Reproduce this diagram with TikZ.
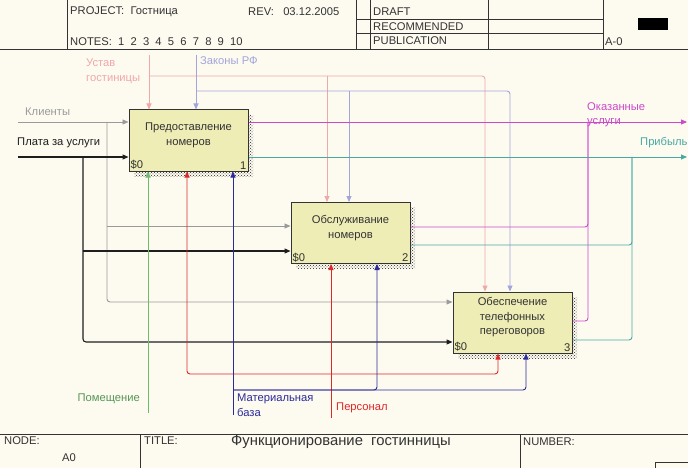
\documentclass[tikz,border=0pt]{standalone}
\usepackage{fontspec}
\setmainfont{Liberation Sans}
\usetikzlibrary{positioning,calc,arrows.meta,patterns,shadows}

\definecolor{paper}{HTML}{FDFBF0}
\definecolor{boxfill}{HTML}{EFEDB6}
\definecolor{ink}{HTML}{333333}
\definecolor{cKli}{HTML}{9A9A9A}
\definecolor{cPla}{HTML}{1E1E1E}
\definecolor{cUst}{HTML}{F0A8A8}
\definecolor{cZak}{HTML}{A4A4DC}
\definecolor{cOkz}{HTML}{CC48CC}
\definecolor{cPrb}{HTML}{48A8A4}
\definecolor{cPom}{HTML}{6CBC6C}
\definecolor{cPer}{HTML}{DC2828}
\definecolor{cMat}{HTML}{2A2A9C}

\tikzset{font=\fontsize{11.2}{14.5}\selectfont}
\tikzset{
	func/.style={draw=ink, line width=1pt, fill=boxfill, minimum width=119pt, minimum height=61pt,
		drop shadow={shadow xshift=5pt, shadow yshift=-5pt, opacity=1, fill=black!30,
			pattern=crosshatch dots, pattern color=black!85}},
	functxt/.style={align=center, text=ink, inner sep=0pt},
	corner/.style={text=ink, inner sep=2pt},
	arr/.style={line width=0.9pt, -{Triangle[length=6pt,width=5pt]}},
	pipe/.style={line width=0.9pt, rounded corners=3pt},
	hdr/.style={text=ink, inner sep=0pt, anchor=west},
	frame/.style={draw=ink, line width=0.8pt}
}

\begin{document}
\begin{tikzpicture}[x=1pt, y=-1pt]
	\useasboundingbox[fill=paper] (0,0) rectangle (688,468);

	% header
	\draw[frame] (0,49) -- (688,49);
	\draw[frame] (67,0) -- (67,49);
	\draw[frame] (356,0) -- (356,49);
	\draw[frame] (370,0) -- (370,49);
	\draw[frame] (488,0) -- (488,49);
	\draw[frame] (603,0) -- (603,49);
	\draw[frame] (356,19) -- (603,19);
	\draw[frame] (356,33) -- (603,33);
	\node[hdr] (proj) at (70,12) {PROJECT:\ \ Гостница};
	\node[hdr] (rev) at (248,12) {REV:\ \ \ 03.12.2005};
	\node[hdr] (notes) at (70,42) {NOTES:\ \ 1\ \ 2\ \ 3\ \ 4\ \ 5\ \ 6\ \ 7\ \ 8\ \ 9\ \ 10};
	\node[hdr] (draft) at (373,12) {DRAFT};
	\node[hdr] (recom) at (373,27) {RECOMMENDED};
	\node[hdr] (publ) at (373,41) {PUBLICATION};
	\node[hdr] (anum) at (605,42) {A-0};
	\node[fill=black, minimum width=30pt, minimum height=12pt, inner sep=0pt] (blk) at (653,24.5) {};

	% footer
	\draw[frame] (0,434) -- (688,434);
	\draw[frame] (140,434) -- (140,468);
	\draw[frame] (520,434) -- (520,468);
	\node[hdr] (node) at (4,441) {NODE:};
	\node[hdr] (nodeid) at (62,458) {A0};
	\node[hdr] (title) at (144,441) {TITLE:};
	\node[hdr, font=\fontsize{14.8}{16}\selectfont] (ttxt) at (231,442) {Функционирование\ \ гостинницы};
	\node[hdr] (numb) at (523,442) {NUMBER:};
	\draw[frame] (655,470) |- (690,462);

	% functions
	\node[func] (b1) at (188.5,140.5) {};
	\node[func] (b2) at (350.5,233) {};
	\node[func] (b3) at (512.5,322.5) {};
	\node[functxt] (t1) at ($(b1.center)+(0,-5)$) {Предоставление\\номеров};
	\node[functxt] (t2) at ($(b2.center)+(0,-5)$) {Обслуживание\\номеров};
	\node[functxt] (t3) at ($(b3.center)+(0,-5)$) {Обеспечение\\телефонных\\переговоров};
	\foreach \b/\n in {b1/1, b2/2, b3/3} {
		\node[corner, anchor=south west] (\b s) at (\b.south west) {\$0};
		\node[corner, anchor=south east] (\b n) at (\b.south east) {\n};
	}

	% inputs
	\coordinate (kli) at (18,122);
	\coordinate (klj) at (107,122);
	\node[text=cKli, anchor=west, inner sep=0pt] (lkli) at (25,112) {Клиенты};
	\draw[arr, cKli] (kli) -- (b1.west |- kli);
	\draw[arr, pipe, cKli] (klj) |- (b3.west |- 0,302);
	\draw[arr, cKli] (klj |- 0,226) -- (b2.west |- 0,226);

	\coordinate (pla) at (18,157);
	\coordinate (plj) at (83,157);
	\node[text=cPla, anchor=west, inner sep=0pt] (lpla) at (17,143) {Плата за услуги};
	\draw[arr, cPla, line width=1.1pt] (pla) -- (b1.west |- pla);
	\draw[arr, pipe, cPla, line width=1.1pt] (plj) |- (b3.west |- 0,342);
	\draw[arr, cPla, line width=1.1pt] (plj |- 0,251) -- (b2.west |- 0,251);

	% controls
	\coordinate (ust) at (149,55);
	\coordinate (usj) at (149,76);
	\node[text=cUst, anchor=north west, align=left, inner sep=0pt] (lust) at (86,59) {Устав\\гостиницы};
	\draw[arr, cUst] (ust) -- (ust |- b1.north);
	\draw[arr, pipe, cUst] (usj) -| (b3.north -| 485,0);
	\draw[arr, cUst] (usj -| 327,0) -- (b2.north -| 327,0);

	\coordinate (zak) at (196,55);
	\coordinate (zaj) at (196,91);
	\node[text=cZak, anchor=west, inner sep=0pt] (lzak) at (200,61) {Законы РФ};
	\draw[arr, cZak] (zak) -- (zak |- b1.north);
	\draw[arr, pipe, cZak] (zaj) -| (b3.north -| 510,0);
	\draw[arr, cZak] (zaj -| 349,0) -- (b2.north -| 349,0);

	% outputs
	\coordinate (okz) at (687,122);
	\coordinate (okj) at (588,122);
	\node[text=cOkz, anchor=north west, align=left, inner sep=0pt] (lokz) at (587,102) {Оказанные\\услуги};
	\draw[arr, cOkz] (b1.east |- okz) -- (okz);
	\draw[pipe, cOkz] (b2.east |- 0,227) -| (okj);
	\draw[pipe, cOkz] (b3.east |- 0,321) -| (okj);

	\coordinate (prb) at (687,157);
	\coordinate (prj) at (632,157);
	\node[text=cPrb, anchor=west, inner sep=0pt] (lprb) at (640,143) {Прибыль};
	\draw[arr, cPrb] (b1.east |- prb) -- (prb);
	\draw[pipe, cPrb] (b2.east |- 0,245) -| (prj);
	\draw[pipe, cPrb] (b3.east |- 0,340) -| (prj);

	% mechanisms
	\coordinate (pom) at (148,413);
	\node[text=cPom!80!black, anchor=east, inner sep=0pt] (lpom) at (140,399) {Помещение};
	\draw[arr, cPom] (pom) -- (pom |- b1.south);

	\coordinate (per) at (331,418);
	\coordinate (pej) at (331,374);
	\node[text=cPer, anchor=west, inner sep=0pt] (lper) at (336,408) {Персонал};
	\draw[arr, cPer] (per) -- (per |- b2.south);
	\draw[arr, pipe, cPer] (pej) -| (b1.south -| 187,0);
	\draw[arr, pipe, cPer] (pej) -| (b3.south -| 498,0);

	\coordinate (mat) at (233,415);
	\coordinate (maj) at (233,390);
	\node[text=cMat, anchor=north west, align=left, inner sep=0pt] (lmat) at (237,394) {Материальная\\база};
	\draw[arr, cMat] (mat) -- (mat |- b1.south);
	\draw[arr, pipe, cMat] (maj) -| (b2.south -| 377,0);
	\draw[arr, pipe, cMat] (maj) -| (b3.south -| 526,0);
\end{tikzpicture}
\end{document}
